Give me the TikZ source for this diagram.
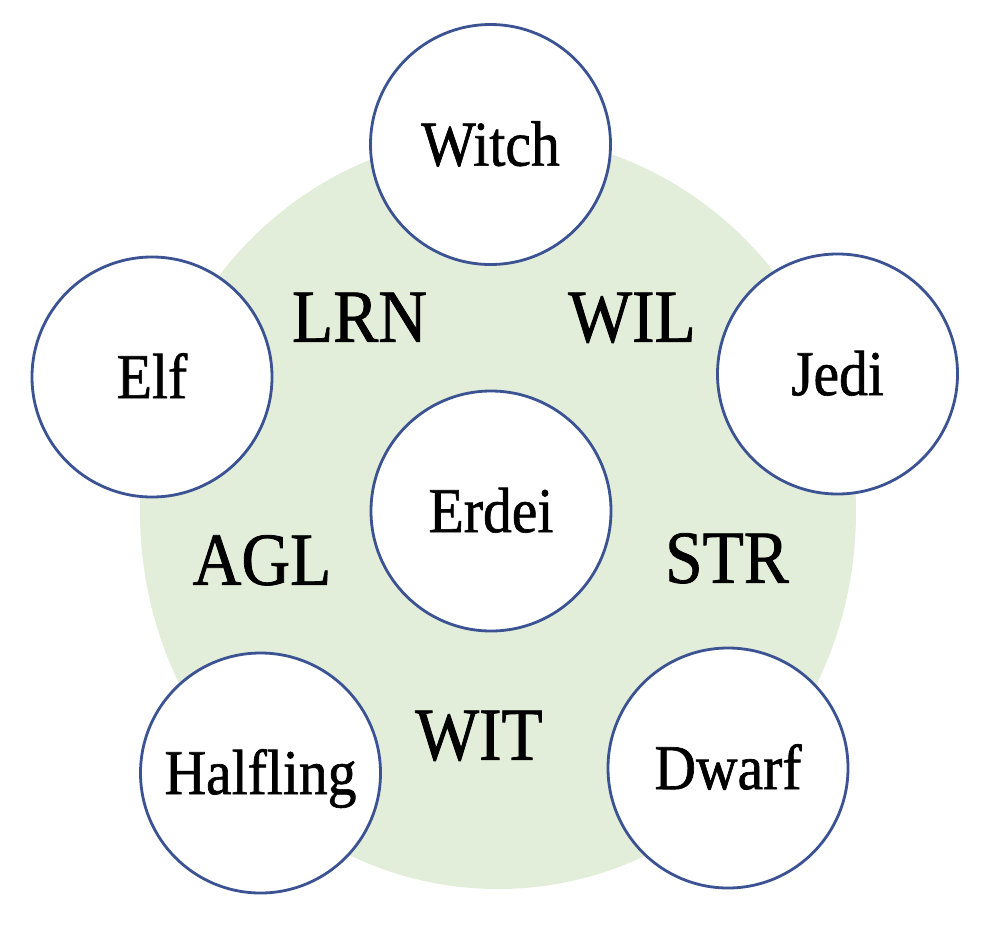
\documentclass[tikz,border=0pt]{standalone}
\usepackage{fontspec}
\setmainfont{Liberation Serif}[FakeStretch=0.9,FakeBold=1]
\definecolor{bgreen}{HTML}{E2EED9}
\definecolor{cblue}{HTML}{3B5293}
\begin{document}
\begin{tikzpicture}[x=1pt,y=-1pt,
  race/.style={circle,draw=cblue,line width=2.8pt,fill=white,minimum size=240pt,inner sep=0pt,
    font=\fontsize{64}{70}\selectfont,text height=42.3pt,text depth=0pt},
  stat/.style={inner sep=0pt,font=\fontsize{75}{80}\selectfont,text height=49.6pt,text depth=0pt}]
\useasboundingbox (0,0) rectangle (982,924);
\fill[bgreen] (498,512) ellipse [x radius=358pt, y radius=377pt];
\node[race] (witch) at (490.5,144.5) {Witch};
\node[race] (elf) at (152,377) {Elf};
\node[race] (jedi) at (837.5,374) {Jedi};
\node[race] (erdei) at (491,511) {Erdei};
\node[race] (halfling) at (260.5,773) {Halfling};
\node[race] (dwarf) at (728,768) {Dwarf};
\node[stat] (lrn) at (359.5,317) {LRN};
\node[stat] (wil) at (632,317) {WIL};
\node[stat] (agl) at (262,560) {AGL};
\node[stat] (str) at (727,558) {STR};
\node[stat] (wit) at (479,735) {WIT};
\end{tikzpicture}
\end{document}
